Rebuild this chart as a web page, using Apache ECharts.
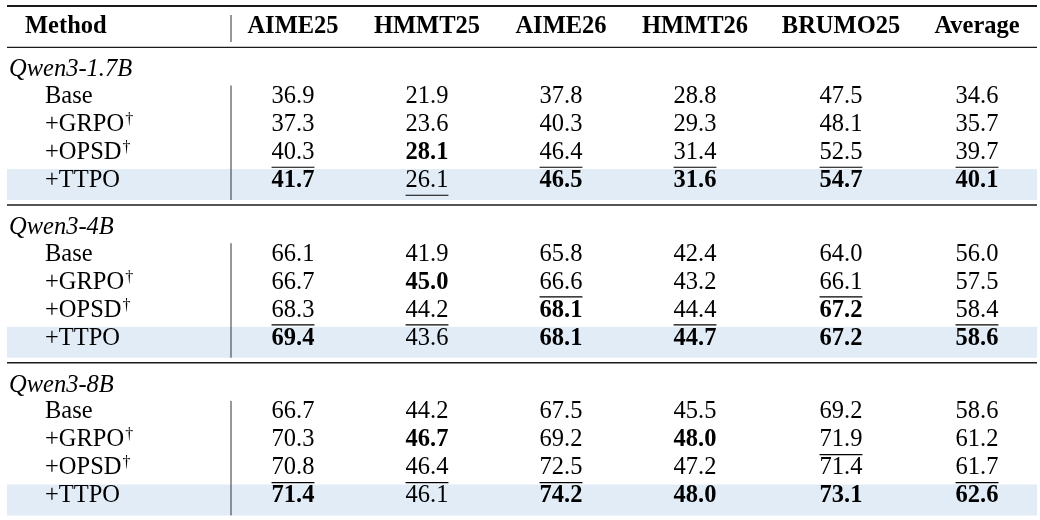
<!DOCTYPE html>
<html>
<head>
<meta charset="utf-8">
<script src="https://cdn.jsdelivr.net/npm/echarts@6/dist/echarts.min.js"></script>
<style>
html,body{margin:0;padding:0;background:#fff;}
#c{width:1040px;height:520px;}
</style>
</head>
<body>
<div id="c"></div>
<script>
// ---------------- DATA ----------------
const benchmarks = ['AIME25', 'HMMT25', 'AIME26', 'HMMT26', 'BRUMO25', 'Average'];
const models = ['Qwen3-1.7B', 'Qwen3-4B', 'Qwen3-8B'];
const methods = ['Base', '+GRPO', '+OPSD', '+TTPO'];
const methodDagger = [false, true, true, false];
const highlightMethod = '+TTPO';

const scoresQwen17B = [
  [36.9, 21.9, 37.8, 28.8, 47.5, 34.6],
  [37.3, 23.6, 40.3, 29.3, 48.1, 35.7],
  [40.3, 28.1, 46.4, 31.4, 52.5, 39.7],
  [41.7, 26.1, 46.5, 31.6, 54.7, 40.1]
];
const scoresQwen4B = [
  [66.1, 41.9, 65.8, 42.4, 64.0, 56.0],
  [66.7, 45.0, 66.6, 43.2, 66.1, 57.5],
  [68.3, 44.2, 68.1, 44.4, 67.2, 58.4],
  [69.4, 43.6, 68.1, 44.7, 67.2, 58.6]
];
const scoresQwen8B = [
  [66.7, 44.2, 67.5, 45.5, 69.2, 58.6],
  [70.3, 46.7, 69.2, 48.0, 71.9, 61.2],
  [70.8, 46.4, 72.5, 47.2, 71.4, 61.7],
  [71.4, 46.1, 74.2, 48.0, 73.1, 62.6]
];
// 0 = plain, 1 = bold (best), 2 = underlined (second best)
const marksQwen17B = [
  [0, 0, 0, 0, 0, 0],
  [0, 0, 0, 0, 0, 0],
  [2, 1, 2, 2, 2, 2],
  [1, 2, 1, 1, 1, 1]
];
const marksQwen4B = [
  [0, 0, 0, 0, 0, 0],
  [0, 1, 2, 0, 2, 0],
  [2, 2, 1, 2, 1, 2],
  [1, 0, 1, 1, 1, 1]
];
const marksQwen8B = [
  [0, 0, 0, 0, 0, 0],
  [0, 1, 0, 1, 2, 0],
  [2, 2, 2, 0, 0, 2],
  [1, 0, 1, 1, 1, 1]
];
const scores = [scoresQwen17B, scoresQwen4B, scoresQwen8B];
const marks = [marksQwen17B, marksQwen4B, marksQwen8B];

// ---------------- LAYOUT (axis units) ----------------
const FONT = '"Liberation Serif", "Times New Roman", serif';
const FS = 24.5;
const SUP_FS = 16;
const COL_X = [293, 427, 561, 695, 841, 977];
const X_HEAD_METHOD = 25, X_GROUP = 9, X_METHOD = 45, X_SEP = 231, X_L = 7, X_R = 1037;
const Y_HEADER = 26.5, Y_TOP_RULE = 6;
const ROW_H = 28, GROUP_PITCH = 157.7, FIRST_GROUP = 70, LABEL_TO_ROW = 26.5;
function groupLabelY(g) { return FIRST_GROUP + g * GROUP_PITCH; }
function rowY(g, k) { return groupLabelY(g) + LABEL_TO_ROW + k * ROW_H; }

const measureCtx = document.createElement('canvas').getContext('2d');
function textWidth(t, bold, italic, size) {
  measureCtx.font = (italic ? 'italic ' : '') + (bold ? 'bold ' : '') + size + 'px ' + FONT;
  return measureCtx.measureText(t).width;
}

// cells
const cells = [];
cells.push({ x: X_HEAD_METHOD, y: Y_HEADER, text: 'Method', bold: true, align: 'left' });
benchmarks.forEach((b, i) => cells.push({ x: COL_X[i], y: Y_HEADER, text: b, bold: true, align: 'center' }));
models.forEach((m, g) => {
  cells.push({ x: X_GROUP, y: groupLabelY(g), text: m, italic: true, align: 'left' });
  methods.forEach((meth, k) => {
    cells.push({ x: X_METHOD, y: rowY(g, k), text: meth, align: 'left', dagger: methodDagger[k] });
    scores[g][k].forEach((v, i) => {
      const mk = marks[g][k][i];
      cells.push({ x: COL_X[i], y: rowY(g, k), text: v.toFixed(1), bold: mk === 1, underline: mk === 2, align: 'center' });
    });
  });
});

// rules
const hRules = [{ y: Y_TOP_RULE, w: 1.8 }];
models.forEach((m, g) => hRules.push({ y: groupLabelY(g) - 22.7, w: g === 0 ? 1.2 : 1.6 }));
const vRules = [{ y1: Y_HEADER - 11.5, y2: Y_HEADER + 15.5 }];
models.forEach((m, g) => vRules.push({ y1: rowY(g, 0) - 11, y2: rowY(g, 3) + 19.5 }));
const bands = [];
models.forEach((m, g) => {
  const k = methods.indexOf(highlightMethod);
  bands.push({ y1: rowY(g, k) - 11.5, y2: rowY(g, k) + 19.5 });
});

const chart = echarts.init(document.getElementById('c'));
chart.setOption({
  animation: false,
  grid: { left: 0, right: 0, top: 0, bottom: 0 },
  xAxis: { type: 'value', min: 0, max: 1040, show: false },
  yAxis: { type: 'value', min: 0, max: 520, inverse: true, show: false },
  series: [
    {
      type: 'custom', name: 'bands', z: 1, silent: true,
      encode: { x: [0, 2], y: [1, 3] },
      data: bands.map(b => [X_L, b.y1, X_R, b.y2]),
      renderItem: (params, api) => {
        const p1 = api.coord([api.value(0), api.value(1)]);
        const p2 = api.coord([api.value(2), api.value(3)]);
        return { type: 'rect', shape: { x: p1[0], y: p1[1], width: p2[0] - p1[0], height: p2[1] - p1[1] }, style: { fill: '#e1ecf7' } };
      }
    },
    {
      type: 'custom', name: 'hrules', z: 2, silent: true,
      encode: { x: [0, 2], y: [1, 3] },
      data: hRules.map(r => [X_L, r.y, X_R, r.y]),
      renderItem: (params, api) => {
        const p1 = api.coord([api.value(0), api.value(1)]);
        const p2 = api.coord([api.value(2), api.value(3)]);
        return { type: 'line', shape: { x1: p1[0], y1: p1[1], x2: p2[0], y2: p2[1] }, style: { stroke: '#1a1a1a', lineWidth: hRules[params.dataIndex].w } };
      }
    },
    {
      type: 'custom', name: 'vrules', z: 2, silent: true,
      encode: { x: [0, 2], y: [1, 3] },
      data: vRules.map(r => [X_SEP, r.y1, X_SEP, r.y2]),
      renderItem: (params, api) => {
        const p1 = api.coord([api.value(0), api.value(1)]);
        const p2 = api.coord([api.value(2), api.value(3)]);
        return { type: 'line', shape: { x1: p1[0], y1: p1[1], x2: p2[0], y2: p2[1] }, style: { stroke: '#333', lineWidth: 1 } };
      }
    },
    {
      type: 'custom', name: 'cells', z: 3, silent: true,
      encode: { x: 0, y: 1 },
      data: cells.map(c => [c.x, c.y]),
      renderItem: (params, api) => {
        const c = cells[params.dataIndex];
        const p = api.coord([api.value(0), api.value(1)]);
        const children = [{
          type: 'text',
          style: {
            text: c.text, x: p[0], y: p[1], fill: '#000',
            fontFamily: FONT, fontSize: FS,
            fontWeight: c.bold ? 'bold' : 'normal',
            fontStyle: c.italic ? 'italic' : 'normal',
            align: c.align, verticalAlign: 'middle'
          }
        }];
        const w = textWidth(c.text, c.bold, c.italic, FS);
        const x0 = c.align === 'center' ? p[0] - w / 2 : p[0];
        if (c.underline) {
          const uy = p[1] + 0.6 * FS;
          children.push({ type: 'line', shape: { x1: x0, y1: uy, x2: x0 + w, y2: uy }, style: { stroke: '#000', lineWidth: 1.1 } });
        }
        if (c.dagger) {
          children.push({
            type: 'text',
            style: {
              text: '\u2020', x: x0 + w + 1, y: p[1] - 0.19 * FS, fill: '#000',
              fontFamily: FONT, fontSize: SUP_FS, align: 'left', verticalAlign: 'middle'
            }
          });
        }
        return { type: 'group', children };
      }
    }
  ]
});
</script>
</body>
</html>
